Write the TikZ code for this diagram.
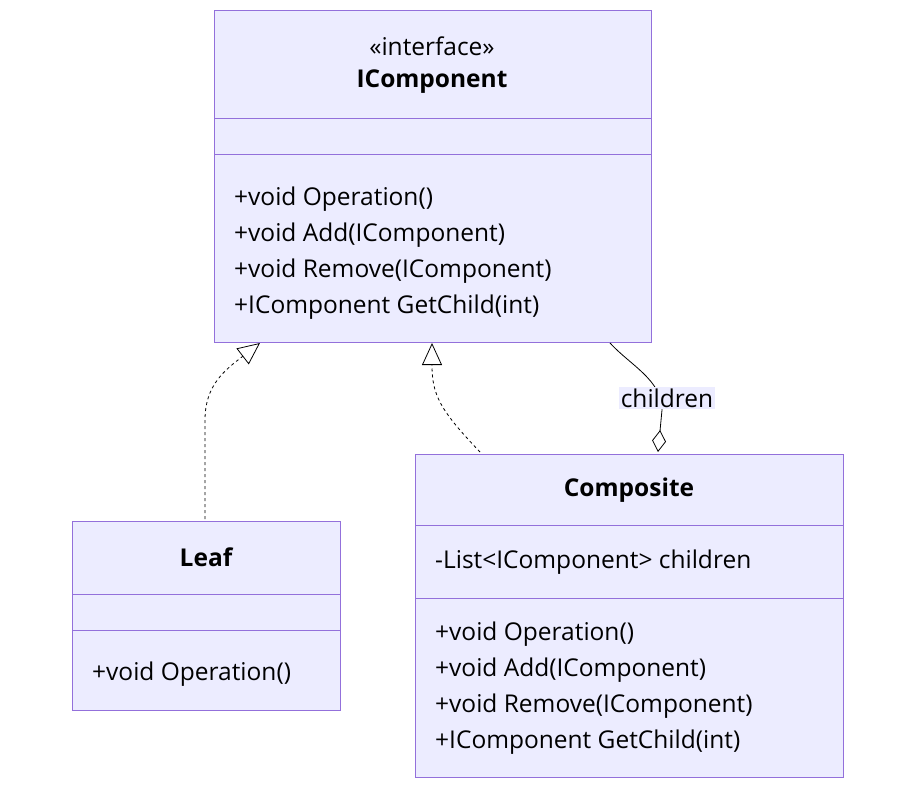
\documentclass[tikz,border=0pt]{standalone}
\usepackage{fontspec}
\setmainfont{Open Sans}
\usetikzlibrary{arrows.meta,positioning}
\definecolor{boxfill}{HTML}{ECECFF}
\definecolor{boxline}{HTML}{9370DB}
\tikzset{
  cls/.style = {draw = boxline, fill = boxfill, line width = 1pt},
  txt/.style = {font = \fontsize{24.5}{28}\selectfont, inner sep = 0pt},
  bold/.style = {txt, font = \fontsize{24.5}{28}\selectfont\bfseries},
  mem/.style = {txt, anchor = west},
  real/.style = {-{Triangle[open, length = 22pt, width = 20pt]}, dashed, line width = .8pt},
  agg/.style = {{Diamond[open, length = 22pt, width = 14pt]}-, line width = .8pt}
}
\begin{document}
\begin{tikzpicture}[x = 1pt, y = -1pt]
  \useasboundingbox (0,0) rectangle (924,795);
  % IComponent
  \draw[cls] (214,10) rectangle (651,342);
  \draw[boxline] (214,118) -- (651,118) (214,154) -- (651,154);
  \node (st) at (432,46) [txt] {«interface»};
  \node (ic) at (432,82) [bold] {IComponent};
  \node (i1) at (234,199) [mem] {+void Operation()};
  \node (i2) at (234,235) [mem] {+void Add(IComponent)};
  \node (i3) at (234,271) [mem] {+void Remove(IComponent)};
  \node (i4) at (234,307) [mem] {+IComponent GetChild(int)};
  % Leaf
  \draw[cls] (72,521) rectangle (340,710);
  \draw[boxline] (72,594) -- (340,594) (72,630) -- (340,630);
  \node (lf) at (206,557) [bold] {Leaf};
  \node (l1) at (92,674) [mem] {+void Operation()};
  % Composite
  \draw[cls] (415,454) rectangle (843,777);
  \draw[boxline] (415,525) -- (843,525) (415,598) -- (843,598);
  \node (cp) at (629,490) [bold] {Composite};
  \node (ca) at (435,562) [mem] {-List<IComponent> children};
  \node (c1) at (435,634) [mem] {+void Operation()};
  \node (c2) at (435,670) [mem] {+void Add(IComponent)};
  \node (c3) at (435,706) [mem] {+void Remove(IComponent)};
  \node (c4) at (435,742) [mem] {+IComponent GetChild(int)};
  % connectors
  \coordinate (lfTop) at (205,519);
  \coordinate (icA) at (260,343);
  \coordinate (cpTop) at (480,452);
  \coordinate (icB) at (432,343);
  \coordinate (cpAgg) at (658,452);
  \coordinate (icC) at (610,343);
  \draw[real] (lfTop) -- (205,420) .. controls (205,385) and (225,370) .. (icA);
  \draw[real] (cpTop) .. controls (440,410) and (432,395) .. (icB);
  \draw[agg] (cpAgg) -- (662,410) .. controls (662,380) and (630,365) .. (icC);
  \node (lbl) at (667,398) [txt, fill = boxfill, inner sep = 2pt] {children};
\end{tikzpicture}
\end{document}
